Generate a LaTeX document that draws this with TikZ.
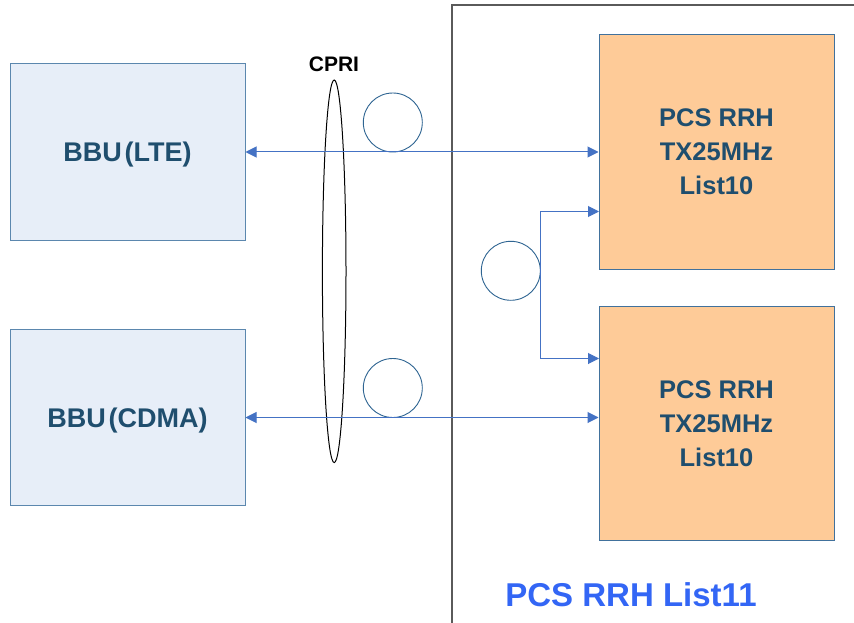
\documentclass[tikz,border=0pt]{standalone}
\usepackage{fontspec}
\setmainfont{Liberation Sans}
\usetikzlibrary{arrows.meta,shapes.geometric}
\definecolor{bbufill}{HTML}{E7EEF8}
\definecolor{bbuline}{HTML}{5B87AE}
\definecolor{rrhfill}{HTML}{FECB98}
\definecolor{rrhline}{HTML}{41719C}
\definecolor{txtc}{HTML}{1F4E6E}
\definecolor{listblue}{HTML}{3366F5}
\definecolor{arrowc}{HTML}{4472C4}
\definecolor{circline}{HTML}{2F6592}
\definecolor{frameg}{HTML}{5A5A5A}
\tikzset{
  bbu/.style={draw=bbuline, fill=bbufill, line width=1pt, minimum width=235pt, minimum height=176pt, inner sep=0pt, text=txtc, font=\fontsize{27}{32}\selectfont\bfseries, text depth=0pt},
  rrh/.style={draw=rrhline, fill=rrhfill, line width=1pt, minimum width=235pt, minimum height=234pt, inner sep=0pt, text=txtc, align=center, font=\fontsize{25.5}{34}\selectfont\bfseries},
  circ/.style={circle, draw=circline, line width=0.9pt, minimum size=59pt, inner sep=0pt},
  barr/.style={draw=arrowc, line width=1pt, {Triangle[length=11pt,width=11pt]}-{Triangle[length=11pt,width=11pt]}},
  farr/.style={draw=arrowc, line width=1pt, -{Triangle[length=11pt,width=11pt]}},
  cable/.style={ellipse, draw=black, line width=1pt, minimum width=23.6pt, minimum height=382.6pt, inner sep=0pt},
  framel/.style={draw=frameg, line width=1.8pt}
}
\begin{document}
\begin{tikzpicture}[x=1pt,y=-1pt]
\useasboundingbox (0,0) rectangle (854,623);
\fill[white] (0,0) rectangle (854,623);
% container frame
\draw[framel] (854,5) -- (451.7,5) -- (451.7,623);
% boxes
\node[bbu] (lte) at (127.5,152) {BBU\hspace{3pt}(LTE)};
\node[bbu] (cdma) at (127.5,417.5) {BBU\hspace{3pt}(CDMA)};
\node[rrh] (r1) at (716.5,152) {PCS RRH\\TX25MHz\\List10};
\node[rrh] (r2) at (716.5,423.5) {PCS RRH\\TX25MHz\\List10};
% cable bundle
\node[cable] (cab) at (334.2,271.3) {};
\node[inner sep=0pt, font=\fontsize{21}{25}\selectfont\bfseries] (cpri) at (334,64.5) {CPRI};
% circles
\node[circ] (c1) at (392.8,122.5) {};
\node[circ] (c2) at (392.8,388) {};
\node[circ] (c3) at (510.8,270.8) {};
% connectors
\draw[barr] (lte.east) -- (r1.west);
\draw[barr] (cdma.east) -- (cdma.east -| r2.west);
\coordinate (b1) at (599,211.5);
\coordinate (b2) at (599,358.5);
\draw[farr] (c3.east) |- (b1);
\draw[farr] (c3.east) |- (b2);
% label
\node[inner sep=0pt, text=listblue, font=\fontsize{33}{40}\selectfont\bfseries] (lbl) at (631,594.7) {PCS RRH List11};
\end{tikzpicture}
\end{document}
